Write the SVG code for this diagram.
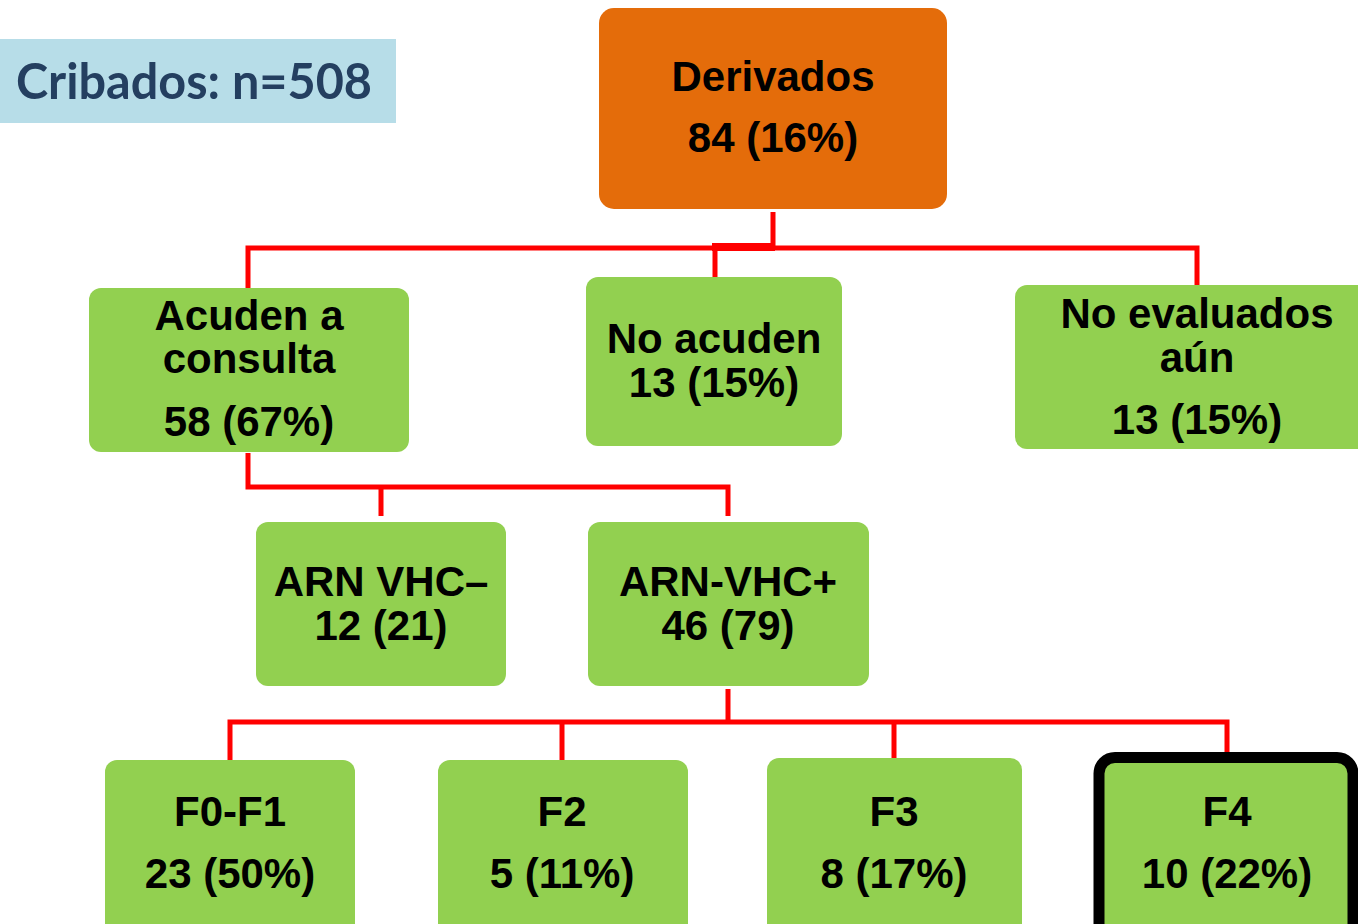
<svg xmlns="http://www.w3.org/2000/svg" width="1358" height="924" viewBox="0 0 1358 924">
<style>
.g{fill:#92d050}
.t{font-family:"Liberation Sans",Arial,sans-serif;font-weight:bold;font-size:42px;fill:#000;text-anchor:middle}
.c{stroke:#ff0000;stroke-width:5;fill:none;stroke-linejoin:miter}
</style>
<rect width="1358" height="924" fill="#fff"/>
<g id="cribados">
<rect x="0" y="39" width="396" height="84" fill="#b7dde8"/>
<text x="16" y="99" font-family="Lato,'Open Sans',sans-serif" font-weight="bold" font-size="50" fill="#243f60" textLength="356" lengthAdjust="spacingAndGlyphs">Cribados: n=508</text>
</g>
<g id="connectors">
<path class="c" d="M773 212V247M248 288V248H1197V285M715 277V247"/>
<path d="M712 243H775V251H712Z" fill="#ff0000"/>
<path class="c" d="M248 453V487H728V516M381 487V516"/>
<path class="c" d="M728 689V722M230 760V722H1227V752M562 722V760M894 722V758"/>
</g>
<g id="derivados">
<rect x="599" y="8" width="348" height="201" rx="15" fill="#e46c0a"/>
<text class="t" x="773" y="91">Derivados</text>
<text class="t" x="773" y="152">84 (16%)</text>
</g>
<g id="acuden">
<rect class="g" x="89" y="288" width="320" height="164" rx="12"/>
<text class="t" x="249" y="330">Acuden a</text>
<text class="t" x="249" y="373">consulta</text>
<text class="t" x="249" y="436">58 (67%)</text>
</g>
<g id="noacuden">
<rect class="g" x="586" y="277" width="256" height="169" rx="12"/>
<text class="t" x="714" y="353">No acuden</text>
<text class="t" x="714" y="397">13 (15%)</text>
</g>
<g id="noevaluados">
<rect class="g" x="1015" y="285" width="360" height="164" rx="12"/>
<text class="t" x="1197" y="328">No evaluados</text>
<text class="t" x="1197" y="372">aún</text>
<text class="t" x="1197" y="434">13 (15%)</text>
</g>
<g id="arnneg">
<rect class="g" x="256" y="522" width="250" height="164" rx="12"/>
<text class="t" x="381" y="596">ARN VHC–</text>
<text class="t" x="381" y="640">12 (21)</text>
</g>
<g id="arnpos">
<rect class="g" x="588" y="522" width="281" height="164" rx="12"/>
<text class="t" x="728" y="596">ARN-VHC+</text>
<text class="t" x="728" y="640">46 (79)</text>
</g>
<g id="f0f1">
<rect class="g" x="105" y="760" width="250" height="180" rx="12"/>
<text class="t" x="230" y="826">F0-F1</text>
<text class="t" x="230" y="888">23 (50%)</text>
</g>
<g id="f2">
<rect class="g" x="438" y="760" width="250" height="180" rx="12"/>
<text class="t" x="562" y="826">F2</text>
<text class="t" x="562" y="888">5 (11%)</text>
</g>
<g id="f3">
<rect class="g" x="767" y="758" width="255" height="182" rx="12"/>
<text class="t" x="894" y="826">F3</text>
<text class="t" x="894" y="888">8 (17%)</text>
</g>
<g id="f4">
<rect x="1099" y="757.5" width="254" height="190" rx="16" fill="#92d050" stroke="#000" stroke-width="11"/>
<text class="t" x="1227" y="826">F4</text>
<text class="t" x="1227" y="888">10 (22%)</text>
</g>
</svg>
